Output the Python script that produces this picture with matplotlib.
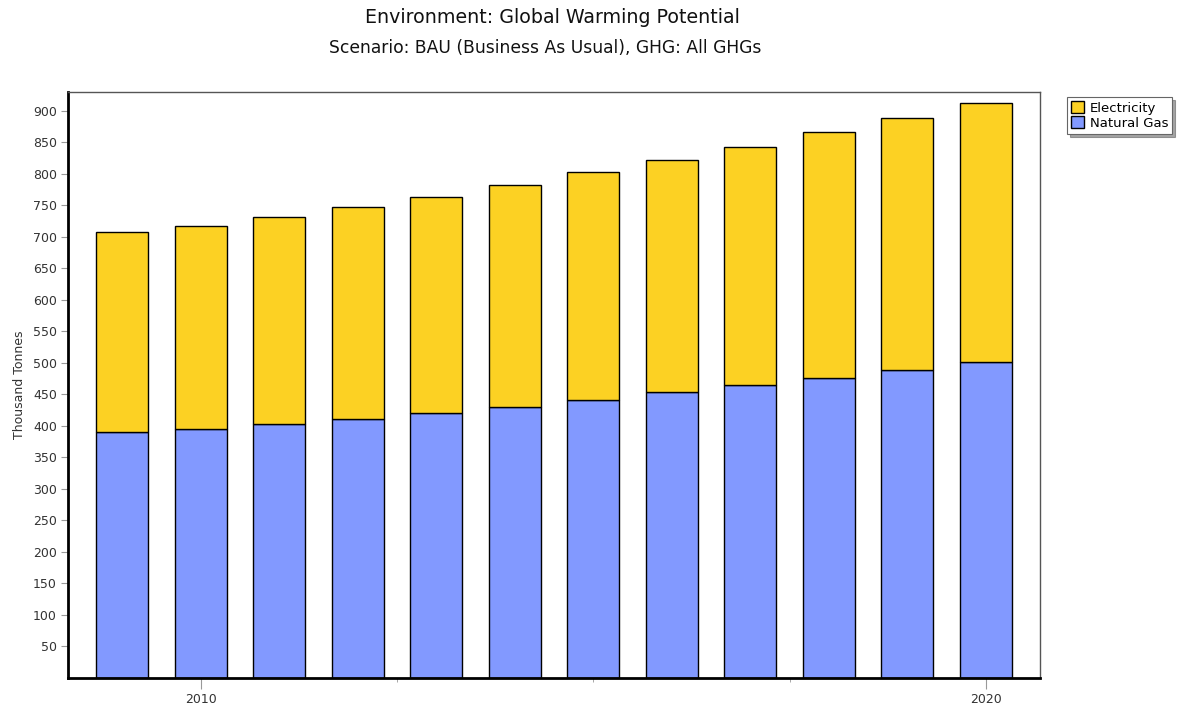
import numpy as np
import matplotlib.pyplot as plt
from matplotlib.ticker import FixedLocator

# Data
years = [2009, 2010, 2011, 2012, 2013, 2014, 2015, 2016, 2017, 2018, 2019, 2020]
natural_gas = [389.8, 394.0, 402.5, 410.4, 420.5, 430.0, 441.0, 452.8, 464.4, 475.6, 488.3, 501.0]
electricity = [318.0, 323.4, 328.2, 336.2, 342.5, 352.5, 361.6, 368.9, 378.4, 390.1, 400.1, 411.7]

gas_color = '#8299FF'
elec_color = '#FCD123'

fig = plt.figure(figsize=(11.82, 7.09), dpi=100)
ax = fig.add_axes([0.0575, 0.0444, 0.8224, 0.8263])

x = np.array(years)
ax.bar(x, natural_gas, width=0.66, color=gas_color, edgecolor='black', linewidth=1.0,
       label='Natural Gas', zorder=2)
ax.bar(x, electricity, width=0.66, bottom=natural_gas, color=elec_color, edgecolor='black',
       linewidth=1.0, label='Electricity', zorder=2)

ax.set_xlim(2008.31, 2020.69)
ax.set_ylim(0, 930)

# y axis ticks
ax.set_yticks(np.arange(50, 901, 50))
ax.tick_params(axis='y', length=5, color='#999999', labelsize=9, labelcolor='#333333', pad=3)

# x axis: labelled ticks at 2010/2020, small ticks every 2.5 years
ax.set_xticks([2010, 2020])
ax.xaxis.set_minor_locator(FixedLocator([2012.5, 2015, 2017.5]))
ax.tick_params(axis='x', which='major', length=8, color='#999999', labelsize=9,
               labelcolor='#333333', pad=3)
ax.tick_params(axis='x', which='minor', length=3, color='#999999')

for side in ['left', 'bottom']:
    ax.spines[side].set_linewidth(2.0)
    ax.spines[side].set_color('black')
for side in ['top', 'right']:
    ax.spines[side].set_linewidth(1.0)
    ax.spines[side].set_color('#555555')

ax.set_ylabel('Thousand Tonnes', fontsize=9, color='#333333', labelpad=5)

fig.text(0.467, 0.975, 'Environment: Global Warming Potential', ha='center', va='center',
         fontsize=13.7, color='#111111')
fig.text(0.461, 0.932, 'Scenario: BAU (Business As Usual), GHG: All GHGs', ha='center',
         va='center', fontsize=12.3, color='#111111')

handles, labels = ax.get_legend_handles_labels()
leg = fig.legend(handles[::-1], labels[::-1], loc='upper left', bbox_to_anchor=(0.903, 0.863),
                 fontsize=9.5, frameon=True, fancybox=False, shadow=True, handlelength=1.0,
                 handleheight=1.0, handletextpad=0.4, borderpad=0.3, labelspacing=0.15,
                 borderaxespad=0)
leg.get_frame().set_edgecolor('#666666')
leg.get_frame().set_linewidth(0.8)

fig.savefig('out.png', dpi=100)
